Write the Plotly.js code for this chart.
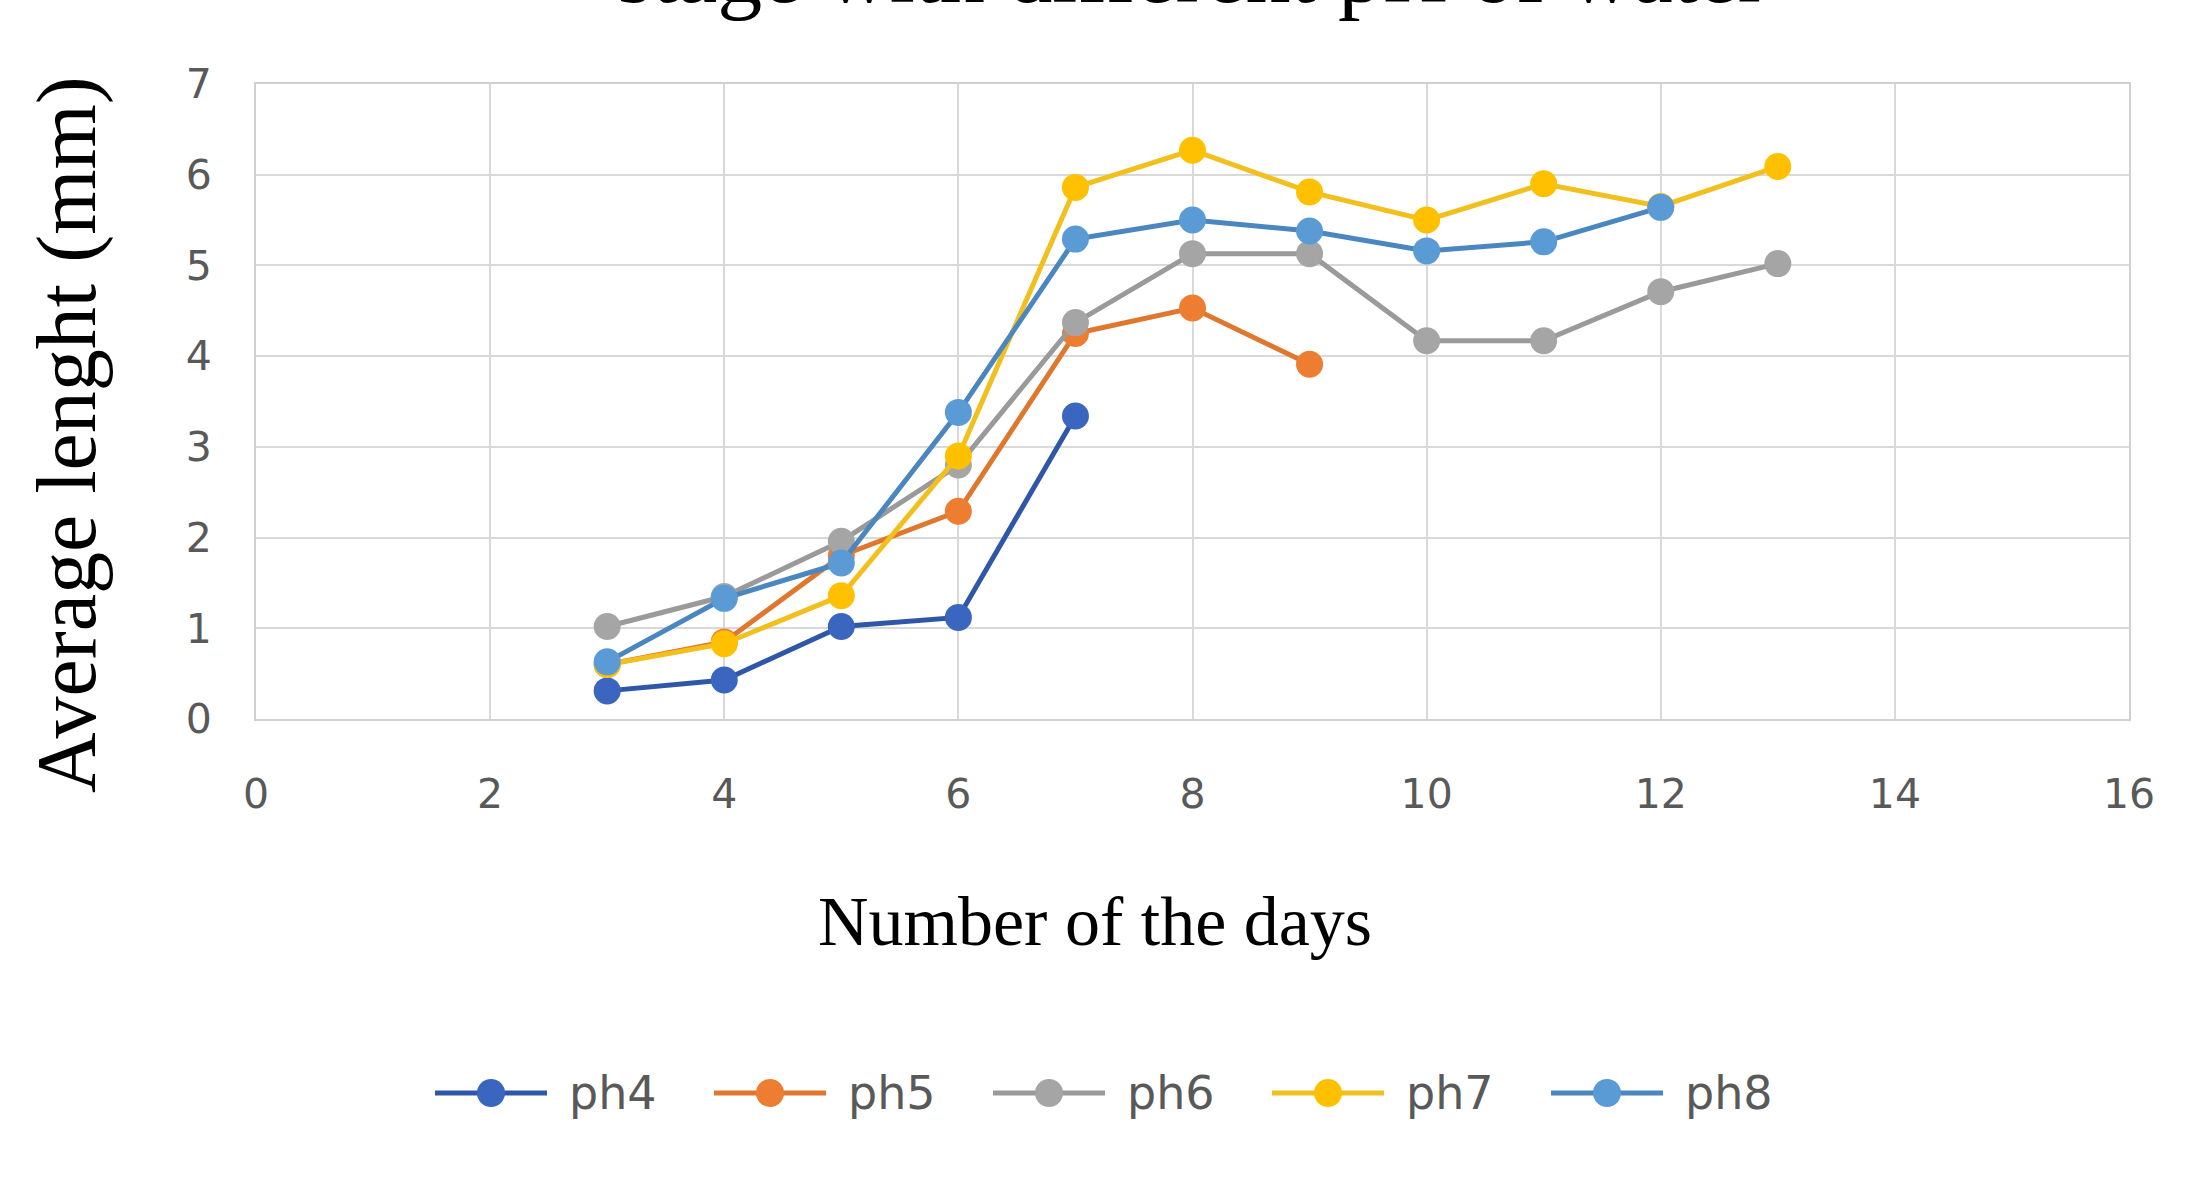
<!DOCTYPE html>
<html>
<head>
<meta charset="utf-8">
<script src="https://cdn.plot.ly/plotly-3.0.1.min.js"></script>
<style>html,body{margin:0;padding:0;background:#fff;}#chart{width:2198px;height:1182px;}</style>
</head>
<body>
<div id="chart"></div>
<script>
const seriesNames = ["ph4", "ph5", "ph6", "ph7", "ph8"];
const seriesColors = ["#3A66C0", "#ED7D31", "#A5A5A5", "#FFC000", "#5B9BD5"];
const lineColors = ["#2F57A8", "#E0772F", "#9A9A9A", "#F2C01E", "#4A86C0"];

const ph4Days = [3, 4, 5, 6, 7];
const ph4Values = [0.31, 0.43, 1.02, 1.12, 3.34];

const ph5Days = [3, 4, 5, 6, 7, 8, 9];
const ph5Values = [0.6, 0.85, 1.8, 2.29, 4.25, 4.53, 3.91];

const ph6Days = [3, 4, 5, 6, 7, 8, 9, 10, 11, 12, 13];
const ph6Values = [1.02, 1.35, 1.96, 2.8, 4.37, 5.13, 5.13, 4.17, 4.17, 4.71, 5.02];

const ph7Days = [3, 4, 5, 6, 7, 8, 9, 10, 11, 12, 13];
const ph7Values = [0.6, 0.83, 1.36, 2.9, 5.86, 6.27, 5.81, 5.5, 5.9, 5.65, 6.09];

const ph8Days = [3, 4, 5, 6, 7, 8, 9, 10, 11, 12];
const ph8Values = [0.63, 1.33, 1.72, 3.38, 5.29, 5.5, 5.38, 5.16, 5.26, 5.64];

const titleText = "stage with different pH of water";
const xTitle = "Number of the days";
const yTitle = "Average lenght (mm)";

const allDays = [ph4Days, ph5Days, ph6Days, ph7Days, ph8Days];
const allValues = [ph4Values, ph5Values, ph6Values, ph7Values, ph8Values];

// plot-area geometry (pixels)
const W = 2198, H = 1182;
const M = {l: 256, r: 69, t: 84, b: 463};
const plotW = W - M.l - M.r, plotH = H - M.t - M.b;
const px2x = px => (px - M.l) / plotW;
const py2y = py => (H - M.b - py) / plotH;

const traces = seriesNames.map((name, i) => ({
  type: "scatter",
  mode: "lines+markers",
  name: name,
  x: allDays[i],
  y: allValues[i],
  showlegend: false,
  line: {color: lineColors[i], width: 5},
  marker: {color: seriesColors[i], size: 27, line: {width: 0}}
}));

// custom legend (long line samples like the reference)
const shapes = [];
const annotations = [];
const legendY = 1093, legendStart = 435, legendStep = 279, legendLine = 112;
seriesNames.forEach((name, i) => {
  const x0 = legendStart + i * legendStep;
  shapes.push({type: "line", xref: "paper", yref: "paper",
    x0: px2x(x0), x1: px2x(x0 + legendLine), y0: py2y(legendY), y1: py2y(legendY),
    line: {color: lineColors[i], width: 5}});
  shapes.push({type: "circle", xref: "paper", yref: "paper",
    x0: px2x(x0 + legendLine / 2 - 14), x1: px2x(x0 + legendLine / 2 + 14),
    y0: py2y(legendY + 14), y1: py2y(legendY - 14),
    fillcolor: seriesColors[i], line: {width: 0}});
  annotations.push({xref: "paper", yref: "paper", x: px2x(x0 + legendLine + 20), y: py2y(legendY),
    xanchor: "left", yanchor: "middle", showarrow: false, text: name,
    font: {family: "DejaVu Sans, sans-serif", size: 46, color: "#595959"}});
});

annotations.push({xref: "paper", yref: "paper", x: px2x(1095), y: py2y(921),
  xanchor: "center", yanchor: "middle", showarrow: false, text: xTitle,
  font: {family: "Liberation Serif, Times New Roman, serif", size: 70, color: "#000"}});
annotations.push({xref: "paper", yref: "paper", x: px2x(67), y: py2y(435),
  xanchor: "center", yanchor: "middle", showarrow: false, text: yTitle, textangle: -90,
  font: {family: "Liberation Serif, Times New Roman, serif", size: 84, color: "#000"}});

const layout = {
  width: W,
  height: H,
  paper_bgcolor: "#ffffff",
  plot_bgcolor: "#ffffff",
  margin: M,
  showlegend: false,
  title: {
    text: titleText,
    font: {family: "Liberation Serif, Times New Roman, serif", size: 90, color: "#000"},
    x: 0.5, xref: "paper",
    y: 1 - 2 / 1182, yref: "container", yanchor: "bottom"
  },
  xaxis: {
    range: [0, 16],
    dtick: 2,
    tick0: 0,
    showgrid: true,
    gridcolor: "#d9d9d9",
    gridwidth: 2,
    zeroline: false,
    showline: true,
    linecolor: "#d0d0d0",
    linewidth: 2,
    mirror: true,
    ticks: "",
    ticklabelstandoff: 38,
    tickfont: {family: "DejaVu Sans, sans-serif", size: 41, color: "#595959"}
  },
  yaxis: {
    range: [0, 7],
    dtick: 1,
    tick0: 0,
    showgrid: true,
    gridcolor: "#d9d9d9",
    gridwidth: 2,
    zeroline: false,
    showline: true,
    linecolor: "#d0d0d0",
    linewidth: 2,
    mirror: true,
    ticks: "",
    ticklabelstandoff: 34,
    tickfont: {family: "DejaVu Sans, sans-serif", size: 41, color: "#595959"}
  },
  shapes: shapes,
  annotations: annotations
};

Plotly.newPlot("chart", traces, layout, {displayModeBar: false, staticPlot: true});
</script>
</body>
</html>
